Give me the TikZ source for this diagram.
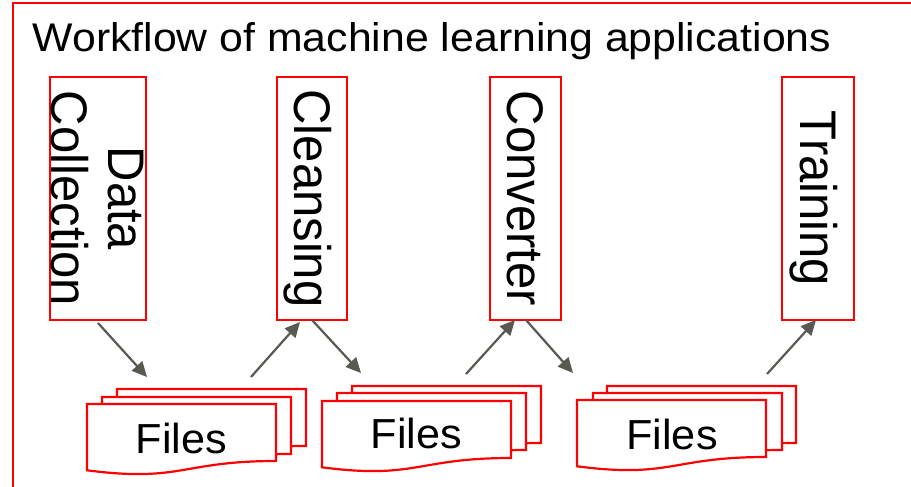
\documentclass[tikz,border=0pt]{standalone}
\usepackage{fontspec}
\setmainfont{Liberation Sans}
\usetikzlibrary{arrows.meta}
\definecolor{boxred}{RGB}{255,0,0}
\definecolor{arrgray}{RGB}{89,89,82}
\newcommand{\vtext}[1]{\makebox[0pt]{\rotatebox{-90}{\scalebox{1}[1.05]{\rule[-0.212em]{0pt}{1.117em}#1}}}}
\newcommand{\docshape}[2]{\filldraw[docst] (#1,#2) -- (#1+189,#2) -- (#1+189,#2+57) .. controls (#1+94.5,#2+57) and (#1+94.5,#2+78.6) .. (#1,#2+66.3) -- cycle;}
\begin{document}
\begin{tikzpicture}[x=1pt,y=-1pt,
  procbox/.style={draw=boxred,line width=2.2pt,inner sep=0pt,outer sep=0pt,minimum height=243pt,font=\fontsize{49}{54.5}\selectfont},
  docst/.style={draw=boxred,fill=white,line width=2.2pt},
  arr/.style={draw=arrgray,line width=2.2pt,-{Triangle[length=15pt,width=14pt]}},
  lbl/.style={inner sep=0pt,font=\fontsize{42}{48}\selectfont}]
\clip (0,0) rectangle (911,487);
\fill[white] (0,0) rectangle (911,487);
\draw[draw=boxred,line width=2.2pt] (13,500) -- (13,3) -- (920,3);
\node[anchor=base west,inner sep=0pt,font=\fontsize{40}{48}\selectfont] (title) at (32.5,52) {\scalebox{1.07}[1]{Workflow of machine learning applications}};
\node[procbox,minimum width=96pt] (dc) at (98,198.5) {\makebox[0pt]{\rotatebox{-90}{\scalebox{1}[1.05]{\begin{tabular}{@{}c@{}}\rule{0pt}{50.25pt}Data\\Collection\end{tabular}}}}};
\node[procbox,minimum width=70pt] (cl) at (312,198.5) {\vtext{Cleansing}};
\node[procbox,minimum width=71pt] (cv) at (525.5,198.5) {\vtext{Converter}};
\node[procbox,minimum width=72pt] (tr) at (818,198.5) {\vtext{Training}};
\docshape{117}{389}
\docshape{102}{397}
\docshape{87}{404}
\docshape{352}{386}
\docshape{337}{393}
\docshape{322}{401}
\docshape{607}{386}
\docshape{593}{393}
\docshape{577}{400}
\node[lbl,anchor=base] (f1) at (181.5,453) {\scalebox{1.03}[1]{Files}};
\node[lbl,anchor=base] (f2) at (416.5,448) {\scalebox{1.03}[1]{Files}};
\node[lbl,anchor=base] (f3) at (672,449) {\scalebox{1.03}[1]{Files}};
\coordinate (f1in) at (147,377);
\coordinate (f1out) at (251,377);
\coordinate (f2in) at (361,373);
\coordinate (f2out) at (466,374);
\coordinate (f3in) at (573,373);
\coordinate (f3out) at (767,374);
\draw[arr] ([yshift=-3pt]dc.south) -- (f1in);
\draw[arr] (f1out) -- ([xshift=-12pt,yshift=-2pt]cl.south);
\draw[arr] (cl.south) -- (f2in);
\draw[arr] (f2out) -- ([xshift=-10.5pt]cv.south);
\draw[arr] ([xshift=0.5pt]cv.south) -- (f3in);
\draw[arr] (f3out) -- ([xshift=-2pt]tr.south);
\end{tikzpicture}
\end{document}
